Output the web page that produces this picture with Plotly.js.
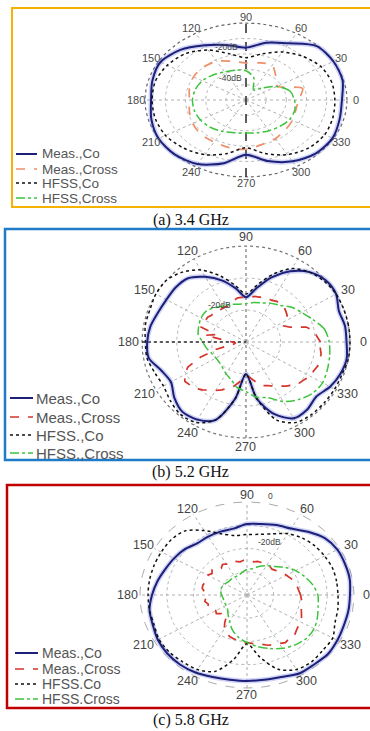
<!DOCTYPE html>
<html><head><meta charset="utf-8">
<script src="https://cdn.plot.ly/plotly-3.0.1.min.js"></script>
<style>html,body{margin:0;padding:0;background:#fff}#chart{width:370px;height:731px}</style>
</head><body><div id="chart"></div>
<script>
const W = 370, H = 731;

// angular tick labels (degrees)
const TICK_ANGLES = [0, 30, 60, 90, 120, 150, 180, 210, 240, 270, 300, 330];
const TICK_LABELS = ['0', '30', '60', '90', '120', '150', '180', '210', '240', '270', '300', '330'];
const CAPTIONS = ['(a) 3.4 GHz', '(b) 5.2 GHz', '(c) 5.8 GHz'];
const LEGEND_A = ['Meas.,Co', 'Meas.,Cross', 'HFSS,Co', 'HFSS,Cross'];
const LEGEND_B = ['Meas.,Co', 'Meas.,Cross', 'HFSS.,Co', 'HFSS.,Cross'];
const LEGEND_C = ['Meas.,Co', 'Meas.,Cross', 'HFSS.Co', 'HFSS.Cross'];

// ---- (a) 3.4 GHz : dB, 15 deg steps starting at 0 deg
const A_MEAS_CO   = [-2.5,-0.5,0,-0.5,-7.5,-11.5,-16,-13,-9,-4,-1,-2,-3,-1.5,0,0,-2,-7.5,-14.5,-9,-4,-1,-0.5,-2];
const A_MEAS_X    = [-24,-21,-32,-29,-24,-25,-26,-24,-21,-20,-20,-21,-22,-21,-19.5,-18.5,-18.5,-18,-18,-20,-21,-22.5,-23.5,-24.5];
const A_HFSS_CO   = [-6,-6,-7,-10,-14,-19,-22.5,-19,-12.5,-7.5,-5,-3.5,-3.5,-3.5,-4,-6,-9,-14,-19,-14,-9,-6,-5,-5.5];
const A_HFSS_X    = [-26,-27.5,-32.5,-39,-42.5,-35,-31,-30,-29,-27,-25,-24,-23.5,-23.5,-24,-25,-26.5,-28,-28.5,-28,-27,-26,-25,-25];
const A_RINGS = [-40, -30, -20, -10, 0];
const A_RLABELS = ['-20dB', '-40dB'];
const A_RLABEL_DB = [-20, -40];

// ---- (b) 5.2 GHz : dB, 10 deg steps (cross: 5 deg steps)
const B_MEAS_CO   = [-1,-1,-1.5,0,0,-1.5,-4.5,-8.5,-13,-16,-13,-9.5,-6.5,-4,-3.5,-3.5,-3,-2,-1.5,-1.5,-4,-5,-3,-1.5,-2,-4,-12,-20,-12,-6,-2.5,-2.5,-3.5,-2,-1,-0.5];
const B_MEAS_X    = [-8.5,-9.5,-10,-12,-16.5,-18,-17,-15.5,
                     -15,-14.5,-14.5,-14.5,-15,-15,-15,-15.5,
                     -15.5,-16,-16,-16,-16,-16.5,-17,-17.5,
                     -17.5,-17.5,-17.5,-17,-17,-16.5,-16.5,-16,
                     -16,-21,-18,-23.5,-25.5,-27,-26.5,-21,
                     -16,-11.5,-9.5,-8.5,-9,-9.5,-10.5,-11.5,
                     -12.5,-13.5,-14.5,-15.5,-17,-18,-19,-19,
                     -18,-16.5,-15.5,-15,-14,-13,-12,-11,
                     -10,-9.5,-8.5,-8.5,-8,-8,-8,-8.5];
const B_HFSS_CO   = [0,0,0,0,-0.5,-1.5,-3.5,-7.5,-12,-15,-12,-8,-4,-1.5,0,0,-0.5,-0.5,-1,-1,-2,-2.5,-1.5,-0.5,-1,-4,-12,-20,-12,-4,-1,-0.5,-0.5,-0.5,-0.5,0];
const B_HFSS_X    = [-6,-7,-9.5,-11.5,-13,-15,-16,-17,-17.5,-18,-18,-17.5,-17,-16,-15,-15,-15.5,-16,-17.5,-18.5,-19.5,-20,-20,-19.5,-18.5,-17.5,-15.5,-14.5,-12.5,-11.5,-8.5,-6.5,-5,-4.5,-5,-5.5];
const B_RINGS = [-20, -10, 0];
const B_RLABELS = ['-20dB'];
const B_RLABEL_DB = [-20];

// ---- (c) 5.8 GHz : dB, 10 deg steps (cross: 5 deg steps)
const C_MEAS_CO   = [-1.5,-1,-1,-1,-2,-4.5,-7,-8,-9,-9.5,-11,-11,-11,-11,-9.5,-8.5,-7.5,-6,-4.5,-3,-2.5,-1.5,-1,-1,-1.5,-2.5,-3,-3,-3,-2.5,-1,-1,-0.5,-1,-1.5,-1.5];
const C_MEAS_X    = [-20,-20.5,-21,-21,-21.5,-22.5,-23,-23.5,
                     -24.5,-25,-25.5,-25,-25.5,-25,-25,-25,
                     -25.5,-25,-25,-25,-25.5,-25,-24.5,-25,
                     -24.5,-24,-25,-23.5,-23,-24,-23,-23,
                     -23.5,-23,-23,-24,-23.5,-24.5,-24,-25,
                     -24.5,-25.5,-26.5,-26,-27.5,-27,-28,-25.5,
                     -23,-22,-21,-20.5,-20,-19.5,-19.5,-19,
                     -18.5,-18,-17,-16.5,-16,-15,-15.5,-15,
                     -16,-16.5,-17,-17.5,-18.5,-19,-19,-19.5];
const C_HFSS_CO   = [-6,-6,-6,-6.5,-7,-8,-9.5,-12,-13.5,-14,-14,-12,-8,-4,-3,-3,-3,-3,-3,-3,-3,-2,-2,-2.5,-3,-5,-12,-19,-13,-6,-3,-2.5,-3,-3,-5,-5.5];
const C_HFSS_X    = [-13.5,-15,-17,-19,-21.5,-24,-25.5,-27,-28.5,-29,-30,-31,-31,-31,-31,-30.5,-30,-30,-30.5,-31,-31,-31,-30.5,-29,-27,-24,-21.5,-19.5,-17.5,-15.5,-13.5,-12,-11,-11,-12,-13];
const C_RINGS = [-30, -20, -10, 0];
const C_RLABELS = ['-20dB', '0'];
const C_RLABEL_DB = [-20, 0];

// ---------- panel layout / styles ----------
const FONT = 'Liberation Sans, Arial, sans-serif';
const panels = [
  {cx:246, cy:100, rx:101, ry:77, minDb:-50, rings:A_RINGS, lx:1.09, ly:1.08, tickSize:11, tickColor:'#4a4a4a',
   series:[A_MEAS_CO, A_MEAS_X, A_HFSS_CO, A_HFSS_X], crossColor:'#f0906a', legend:LEGEND_A,
   legX:[16,37,40], legY:[154,169,183,198], legSize:13.5,
   border:{x0:12,y0:8,y1:207,color:'#f5b301',w:2}, caption:[191,220],
   rl:A_RLABELS, rlDb:A_RLABEL_DB, rlAng:[96,96], rlAnchor:'right', vSpoke:{color:'#333',dash:'dash',width:1.6}, outer:{color:'#666',dash:'dot',width:1.2}},
  {cx:246, cy:342, rx:104, ry:96, minDb:-30, rings:B_RINGS, lx:1.13, ly:1.09, tickSize:12.5, tickColor:'#444',
   series:[B_MEAS_CO, B_MEAS_X, B_HFSS_CO, B_HFSS_X], crossColor:'#d5342a', legend:LEGEND_B,
   legX:[10,33,34], legY:[398,417,435,453], legSize:15,
   border:{x0:5,y0:229,y1:460,color:'#1f7bc8',w:2.5}, caption:[191,472],
   rl:B_RLABELS, rlDb:B_RLABEL_DB, rlAng:[112], rlAnchor:'right', vSpoke:{color:'#777',dash:'dot',width:1.2}, outer:{color:'#777',dash:'dot',width:1.2}},
  {cx:247, cy:595, rx:107, ry:93, minDb:-40, rings:C_RINGS, lx:1.12, ly:1.07, tickSize:12.5, tickColor:'#444',
   series:[C_MEAS_CO, C_MEAS_X, C_HFSS_CO, C_HFSS_X], crossColor:'#d5342a', legend:LEGEND_C,
   legX:[15,38,40], legY:[653,669,684,699], legSize:14,
   border:{x0:7,y0:485,y1:708,color:'#c00000',w:2.5}, caption:[191,720],
   rl:C_RLABELS, rlDb:C_RLABEL_DB, rlAng:[80,80], rlAnchor:'left', vSpoke:{color:'#aaa',dash:'dot',width:1}, outer:{color:'#aaa',dash:'dash',width:1}}
];

const data = [], shapes = [], annotations = [];
const layout = {width:W, height:H, margin:{l:0,r:0,t:0,b:0}, paper_bgcolor:'#fff', plot_bgcolor:'rgba(0,0,0,0)',
  showlegend:false, shapes, annotations, font:{family:FONT}};

const px = v => v / W, py = v => 1 - v / H;
const rad = d => d * Math.PI / 180;

panels.forEach((p, idx) => {
  const k = idx + 1, xa = k === 1 ? 'x' : 'x' + k, ya = k === 1 ? 'y' : 'y' + k;
  const Lx = Math.min(1.2, (W - p.cx) / p.rx - 0.002, p.cx / p.rx);
  const Ly = 1.2;
  const axBase = {visible:false, fixedrange:true, showgrid:false, zeroline:false};
  layout['xaxis' + (k === 1 ? '' : k)] = Object.assign({}, axBase, {range:[-Lx, Lx], domain:[px(p.cx - Lx * p.rx), px(p.cx + Lx * p.rx)], anchor:ya});
  layout['yaxis' + (k === 1 ? '' : k)] = Object.assign({}, axBase, {range:[-Ly, Ly], domain:[py(p.cy + Ly * p.ry), py(p.cy - Ly * p.ry)], anchor:xa});

  const rOf = db => Math.max(0, (db - p.minDb) / (0 - p.minDb));
  const base = {type:'scatter', mode:'lines', xaxis:xa, yaxis:ya, hoverinfo:'skip', showlegend:false};

  // grid rings
  p.rings.forEach(db => {
    const r = rOf(db), x = [], y = [];
    for (let a = 0; a <= 360; a += 3) { x.push(r * Math.cos(rad(a))); y.push(r * Math.sin(rad(a))); }
    const st = db === 0 ? p.outer : {color:'#b8b8b8', dash:'dot', width:1};
    data.push(Object.assign({}, base, {x, y, line:st}));
  });
  // spokes
  const sx = [], sy = [];
  TICK_ANGLES.forEach(a => { if (a % 90 !== 0 || a === 0 || a === 180) { sx.push(0, Math.cos(rad(a)), null); sy.push(0, Math.sin(rad(a)), null); } });
  data.push(Object.assign({}, base, {x:sx, y:sy, line:{color:'#b0b0b0', dash:'dot', width:1}}));
  data.push(Object.assign({}, base, {x:[0, 0], y:[-1, 1], line:p.vSpoke}));
  if (idx === 1) data.push(Object.assign({}, base, {x:[-1, 0], y:[0, 0], line:{color:'#333', dash:'dot', width:1.3}}));

  // pattern curves
  const styles = [
    {color:'#1c2078', width:2},
    {color:p.crossColor, width:1.7, dash:'dash'},
    {color:'#111', width:1.5, dash:'dot'},
    {color:'#3cc43c', width:1.5, dash:'dashdot'}
  ];
  [0, 1, 2, 3].forEach(si => {
    const vals = p.series[si], n = vals.length, x = [], y = [];
    for (let i = 0; i <= n; i++) {
      const j = i % n, a = rad(j * 360 / n), r = rOf(vals[j]);
      x.push(r * Math.cos(a)); y.push(r * Math.sin(a));
    }
    const smooth = n <= 36;
    if (si === 0) data.push(Object.assign({}, base, {x, y, line:{color:'rgba(120,130,225,0.35)', width:5, shape:'spline', smoothing:0.8}}));
    data.push(Object.assign({}, base, {x, y, line:Object.assign({shape: smooth ? 'spline' : 'linear', smoothing:0.8}, styles[si])}));
  });

  // angle labels
  TICK_ANGLES.forEach((a, i) => {
    annotations.push({xref:'paper', yref:'paper', showarrow:false, xanchor:'center', yanchor:'middle',
      x:px(p.cx + p.lx * p.rx * Math.cos(rad(a))), y:py(p.cy - p.ly * p.ry * Math.sin(rad(a))),
      text:TICK_LABELS[i], font:{size:p.tickSize, color:p.tickColor, family:FONT}});
  });
  // radial labels
  p.rl.forEach((t, i) => {
    const r = rOf(p.rlDb[i]), a = rad(p.rlAng[i]);
    annotations.push({xref:'paper', yref:'paper', showarrow:false, xanchor:p.rlAnchor, yanchor:'bottom',
      x:px(p.cx + r * p.rx * Math.cos(a)), y:py(p.cy - r * p.ry * Math.sin(a)),
      text:t, font:{size:8.5, color:'#444', family:FONT}});
  });
  // legend (manual, compact)
  p.legend.forEach((t, i) => {
    const st = styles[i];
    shapes.push({type:'line', xref:'paper', yref:'paper', x0:px(p.legX[0]), x1:px(p.legX[1]), y0:py(p.legY[i]), y1:py(p.legY[i]),
      line:{color:st.color, width:st.width, dash:st.dash || 'solid'}});
    annotations.push({xref:'paper', yref:'paper', showarrow:false, xanchor:'left', yanchor:'middle',
      x:px(p.legX[2]), y:py(p.legY[i]), text:t, font:{size:p.legSize, color:'#555', family:FONT}});
  });
  // border
  shapes.push({type:'rect', xref:'paper', yref:'paper', x0:px(p.border.x0), x1:px(W + 5), y0:py(p.border.y0), y1:py(p.border.y1),
    line:{color:p.border.color, width:p.border.w}, fillcolor:'rgba(0,0,0,0)'});
  // caption
  annotations.push({xref:'paper', yref:'paper', showarrow:false, xanchor:'center', yanchor:'middle',
    x:px(p.caption[0]), y:py(p.caption[1]), text:CAPTIONS[idx],
    font:{size:16, color:'#111', family:'Liberation Serif, Times New Roman, serif'}});
});

Plotly.newPlot('chart', data, layout, {staticPlot:true, displayModeBar:false});
</script></body></html>
